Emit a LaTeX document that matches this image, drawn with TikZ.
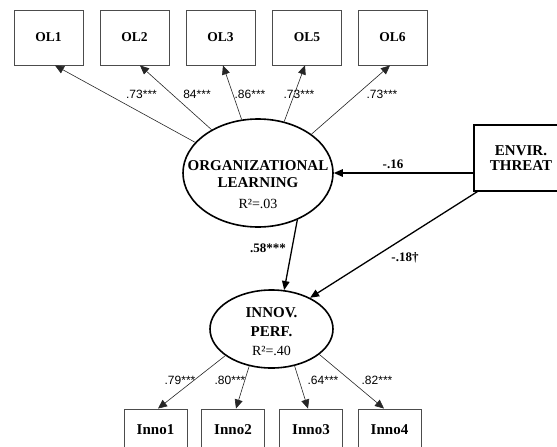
\documentclass[tikz,border=0pt]{standalone}
\usepackage{fontspec}
\setmainfont{Liberation Serif}
\newfontfamily\sansf{Liberation Sans}
\usetikzlibrary{shapes.geometric,arrows.meta}
\begin{document}
\begin{tikzpicture}[x=1pt,y=-1pt,
  obox/.style={draw=black!70, line width=0.9pt, minimum width=69pt, minimum height=55pt, inner sep=0pt,
    font=\bfseries\fontsize{13.5}{14}\selectfont},
  ibox/.style={draw=black!70, line width=0.9pt, minimum width=63pt, minimum height=42pt, inner sep=0pt,
    font=\bfseries\fontsize{15}{15}\selectfont},
  latent/.style={draw, ellipse, line width=1.6pt, inner sep=0pt, fill=white},
  ltext/.style={anchor=base, inner sep=0pt, font=\bfseries\fontsize{15}{15}\selectfont},
  rtext/.style={anchor=base, inner sep=0pt, font=\fontsize{14}{14}\selectfont},
  coef/.style={anchor=base, inner sep=0pt, font=\sansf\fontsize{12}{12}\selectfont},
  pcoef/.style={anchor=base, inner sep=0pt, font=\bfseries\fontsize{13}{13}\selectfont},
  thinarrow/.style={draw=black!85, line width=0.6pt, -{Triangle[length=9pt,width=8pt]}},
  thickarrow/.style={draw, line width=1.3pt, -{Triangle[length=9pt,width=7.5pt]}}
]
\useasboundingbox (0,0) rectangle (557,447);
\clip (0,0) rectangle (557,447);

% indicator boxes (top)
\node[obox] (ol1) at (48.5,37.5) {OL1};
\node[obox] (ol2) at (134.5,37.5) {OL2};
\node[obox] (ol3) at (220.5,37.5) {OL3};
\node[obox] (ol5) at (307,37.5) {OL5};
\node[obox] (ol6) at (392.5,37.5) {OL6};

% latent variables
\node[latent, minimum width=150pt, minimum height=108pt] (ol) at (258,173) {};
\node[ltext] (olt1) at (258,170) {ORGANIZATIONAL};
\node[ltext] (olt2) at (258,187) {LEARNING};
\node[rtext] (olt3) at (258,208) {R²=.03};

\node[latent, minimum width=123pt, minimum height=78pt] (innov) at (271.5,329) {};
\node[ltext] (int1) at (271.5,317) {INNOV.};
\node[ltext] (int2) at (271.5,336) {PERF.};
\node[rtext] (int3) at (271.5,355) {R²=.40};

% exogenous box
\node[draw, line width=1.2pt, minimum width=94pt, minimum height=66pt, inner sep=0pt, align=center,
  font=\bfseries\fontsize{15}{15}\selectfont] (envir) at (521,158) {ENVIR.\\THREAT};

% indicator boxes (bottom)
\node[ibox] (inno1) at (155.5,430) {Inno1};
\node[ibox] (inno2) at (233,430) {Inno2};
\node[ibox] (inno3) at (311,430) {Inno3};
\node[ibox] (inno4) at (389.5,430) {Inno4};

% loadings OL
\draw[thinarrow] (ol.154) -- ([xshift=6.5pt]ol1.south);
\draw[thinarrow] (ol.137) -- ([xshift=5.5pt]ol2.south);
\draw[thinarrow] (ol.107) -- ([xshift=2.5pt]ol3.south);
\draw[thinarrow] (ol.63) -- ([xshift=-2pt]ol5.south);
\draw[thinarrow] (ol.36) -- ([xshift=-2.5pt]ol6.south);

\node[coef] (c1) at (141.5,98) {.73***};
\node[coef] (c2) at (197,98) {84***};
\node[coef] (c3) at (250,98) {.86***};
\node[coef] (c4) at (299,98) {.73***};
\node[coef] (c5) at (382,98) {.73***};

% loadings INNOV
\draw[thinarrow] (innov.210) -- ([xshift=2.5pt]inno1.north);
\draw[thinarrow] (innov.239) -- ([xshift=3pt]inno2.north);
\draw[thinarrow] (innov.302) -- ([xshift=-3pt]inno3.north);
\draw[thinarrow] (innov.332) -- ([xshift=-5.5pt]inno4.north);

\node[coef] (d1) at (180,384) {.79***};
\node[coef] (d2) at (230,384) {.80***};
\node[coef] (d3) at (323,384) {.64***};
\node[coef] (d4) at (377,384) {.82***};

% structural paths
\draw[thickarrow] (ol.east -| envir.west) -- (ol.east);
\draw[thickarrow] (ol.-50) -- (innov.72);
\draw[thickarrow] ([xshift=4pt]envir.south west) -- (innov.39);

\node[pcoef] (p1) at (393,168) {-.16};
\node[pcoef] (p2) at (268,252) {.58***};
\node[pcoef] (p3) at (405,261) {-.18†};
\end{tikzpicture}
\end{document}
